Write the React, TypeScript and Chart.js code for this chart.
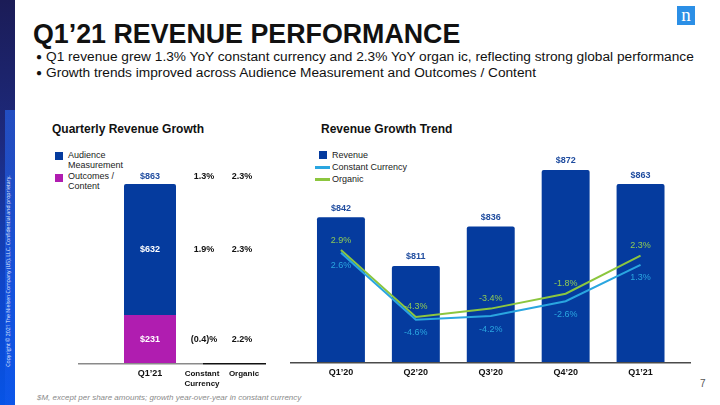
import React, { useEffect, useRef } from "react";
import { Chart, registerables } from "chart.js";

Chart.register(...registerables);

const FONT = '"Liberation Sans", Arial, Helvetica, sans-serif';

// ---- Right chart data: Revenue Growth Trend ----
const quarterCategories = ["Q1’20", "Q2’20", "Q3’20", "Q4’20", "Q1’21"];
const revenue = [842, 811, 836, 872, 863];
const constantCurrencyGrowth = [2.6, -4.6, -4.2, -2.6, 1.3];
const organicGrowth = [2.9, -4.3, -3.4, -1.8, 2.3];

// ---- Left chart data: Quarterly Revenue Growth ----
const segmentCategory = ["Q1’21"];
const outcomesContent = [231];
const audienceMeasurement = [632];
const totalRevenue = [863];
// rows: total, audience measurement, outcomes / content
const segmentConstantCurrency = [1.3, 1.9, -0.4];
const segmentOrganic = [2.3, 2.3, 2.2];
const tableHeaders = [["Constant", "Currency"], ["Organic"]];

const BLUE = "#053b9e";
const LABEL_BLUE = "#1f4c9f";
const PURPLE = "#b01db0";
const LIGHT_BLUE = "#2aa6e0";
const GREEN = "#8cc63f";
const GREEN_TEXT = "#8fcb55";

const pct = (v: number) => (v < 0 ? `(${Math.abs(v).toFixed(1)})%` : `${v.toFixed(1)}%`);
const pctSigned = (v: number) => `${v.toFixed(1)}%`;

function LeftChart() {
  const ref = useRef<HTMLCanvasElement | null>(null);
  useEffect(() => {
    if (!ref.current) return;
    const labelPlugin = {
      id: "leftLabels",
      afterDatasetsDraw(chart: any) {
        const ctx = chart.ctx;
        const area = chart.chartArea;
        const oc = chart.getDatasetMeta(0).data[0];
        const am = chart.getDatasetMeta(1).data[0];
        const colCC = area.right - 18;
        const colOrg = area.right + 20;
        ctx.save();
        // baseline
        ctx.lineWidth = 1.5;
        ctx.strokeStyle = "#8a8a8a";
        ctx.beginPath();
        ctx.moveTo(0, area.bottom + 0.75);
        ctx.lineTo(colCC - 1, area.bottom + 0.75);
        ctx.stroke();
        ctx.strokeStyle = "#111";
        ctx.beginPath();
        ctx.moveTo(colCC - 1, area.bottom + 0.75);
        ctx.lineTo(chart.width, area.bottom + 0.75);
        ctx.stroke();

        ctx.textAlign = "center";
        ctx.textBaseline = "middle";
        ctx.font = `bold 9px ${FONT}`;
        const rows = [am.y - 7, (am.y + am.base) / 2, (oc.y + oc.base) / 2];
        // bar value labels
        ctx.fillStyle = LABEL_BLUE;
        ctx.fillText(`$${totalRevenue[0]}`, am.x, rows[0]);
        ctx.fillStyle = "#fff";
        ctx.fillText(`$${audienceMeasurement[0]}`, am.x, rows[1]);
        ctx.fillText(`$${outcomesContent[0]}`, oc.x, rows[2]);
        // growth table
        ctx.fillStyle = "#111";
        rows.forEach((y, i) => {
          ctx.fillText(pct(segmentConstantCurrency[i]), colCC, y);
          ctx.fillText(pct(segmentOrganic[i]), colOrg, y);
        });
        // category + headers
        const ty = area.bottom + 11;
        ctx.fillText(segmentCategory[0], chart.scales.x.getPixelForValue(0), ty);
        ctx.font = `bold 8px ${FONT}`;
        tableHeaders[0].forEach((t, i) => ctx.fillText(t, colCC - 2, ty + i * 10));
        tableHeaders[1].forEach((t, i) => ctx.fillText(t, colOrg + 2, ty + i * 10));
        ctx.restore();
      },
    };
    const chart = new Chart(ref.current, {
      type: "bar",
      data: {
        labels: segmentCategory,
        datasets: [
          {
            label: "Outcomes / Content",
            data: outcomesContent,
            backgroundColor: PURPLE,
            barPercentage: 52 / 144,
            categoryPercentage: 1,
          },
          {
            label: "Audience Measurement",
            data: audienceMeasurement,
            backgroundColor: BLUE,
            borderRadius: 2,
            borderSkipped: "start",
            barPercentage: 52 / 144,
            categoryPercentage: 1,
          },
        ],
      },
      options: {
        animation: false,
        responsive: false,
        devicePixelRatio: 1,
        layout: { padding: { left: 0, right: 44, top: 10, bottom: 27 } },
        plugins: { legend: { display: false }, tooltip: { enabled: false } },
        scales: {
          x: { display: false, stacked: true },
          y: { display: false, stacked: true, min: 0, max: 1027 },
        },
      },
      plugins: [labelPlugin],
    });
    return () => chart.destroy();
  }, []);
  return <canvas ref={ref} width={188} height={250} style={{ width: 188, height: 250, display: "block" }} />;
}

function RightChart() {
  const ref = useRef<HTMLCanvasElement | null>(null);
  useEffect(() => {
    if (!ref.current) return;
    const labelPlugin = {
      id: "rightLabels",
      afterDatasetsDraw(chart: any) {
        const ctx = chart.ctx;
        const area = chart.chartArea;
        ctx.save();
        ctx.lineWidth = 1.5;
        ctx.strokeStyle = "#4a4a4a";
        ctx.beginPath();
        ctx.moveTo(0, area.bottom + 0.75);
        ctx.lineTo(chart.width, area.bottom + 0.75);
        ctx.stroke();

        ctx.textAlign = "center";
        ctx.textBaseline = "middle";
        ctx.font = `bold 9px ${FONT}`;
        ctx.fillStyle = LABEL_BLUE;
        chart.getDatasetMeta(0).data.forEach((el: any, i: number) => {
          ctx.fillText(`$${revenue[i]}`, el.x, el.y - 9);
        });
        ctx.font = `9px ${FONT}`;
        ctx.fillStyle = LIGHT_BLUE;
        chart.getDatasetMeta(1).data.forEach((el: any, i: number) => {
          ctx.fillText(pctSigned(constantCurrencyGrowth[i]), el.x, el.y + 13);
        });
        ctx.fillStyle = GREEN_TEXT;
        chart.getDatasetMeta(2).data.forEach((el: any, i: number) => {
          ctx.fillText(pctSigned(organicGrowth[i]), el.x, el.y - 10);
        });
        ctx.font = `bold 9px ${FONT}`;
        ctx.fillStyle = "#111";
        quarterCategories.forEach((c, i) => {
          ctx.fillText(c, chart.scales.x.getPixelForValue(i), area.bottom + 11);
        });
        ctx.restore();
      },
    };
    const chart = new Chart(ref.current, {
      type: "bar",
      data: {
        labels: quarterCategories,
        datasets: [
          {
            type: "bar",
            label: "Revenue",
            data: revenue,
            backgroundColor: BLUE,
            borderRadius: 2,
            borderSkipped: "start",
            barPercentage: 0.64,
            categoryPercentage: 1,
            yAxisID: "y",
            order: 3,
          },
          {
            type: "line",
            label: "Constant Currency",
            data: constantCurrencyGrowth,
            borderColor: LIGHT_BLUE,
            borderWidth: 2,
            pointRadius: 0,
            tension: 0,
            yAxisID: "y2",
            order: 1,
          },
          {
            type: "line",
            label: "Organic",
            data: organicGrowth,
            borderColor: GREEN,
            borderWidth: 2,
            pointRadius: 0,
            tension: 0,
            yAxisID: "y2",
            order: 2,
          },
        ] as any,
      },
      options: {
        animation: false,
        responsive: false,
        devicePixelRatio: 1,
        layout: { padding: { left: 13.5, right: 13, top: 10, bottom: 28 } },
        plugins: { legend: { display: false }, tooltip: { enabled: false } },
        scales: {
          x: { display: false, offset: true },
          y: { display: false, min: 750, max: 891 },
          y2: { display: false, min: -9.14, max: 14.73, position: "right" },
        },
      },
      plugins: [labelPlugin],
    });
    return () => chart.destroy();
  }, []);
  return <canvas ref={ref} width={401} height={260} style={{ width: 401, height: 260, display: "block" }} />;
}

const abs = (s: React.CSSProperties): React.CSSProperties => ({ position: "absolute", ...s });

export default function App() {
  return (
    <div
      style={{
        position: "fixed",
        left: 0,
        top: 0,
        width: 720,
        height: 405,
        background: "#fff",
        overflow: "hidden",
        fontFamily: FONT,
        color: "#111",
      }}
    >
      {/* left brand strip */}
      <div
        style={abs({
          left: 0,
          top: 0,
          width: 15,
          height: 405,
          background: "linear-gradient(180deg, #1b1c57 0%, #1d2a7e 35%, #0f45c8 70%, #0754e6 100%)",
        })}
      />
      <div
        style={abs({
          left: 5,
          top: 110,
          width: 10,
          height: 295,
          background: "linear-gradient(180deg, rgba(40,110,255,0.55) 0%, rgba(20,90,240,0.35) 100%)",
        })}
      />
      <div style={abs({ left: 8, top: 271, width: 0, height: 0 })}>
        <div
          style={{
            position: "absolute",
            left: 0,
            top: 0,
            transform: "translate(-50%, -50%) rotate(-90deg)",
            whiteSpace: "nowrap",
            fontSize: 5.2,
            color: "#e8efff",
            fontFamily: '"Open Sans", sans-serif',
          }}
        >
          Copyright © 2021 The Nielsen Company (US), LLC. Confidential and proprietary.
        </div>
      </div>

      {/* logo */}
      <div
        style={abs({
          left: 677,
          top: 6,
          width: 18,
          height: 19,
          background: "#2b8fe6",
          color: "#fff",
          fontFamily: '"Liberation Serif", serif',
          fontSize: 19,
          lineHeight: "17px",
          textAlign: "center",
        })}
      >
        n
      </div>

      {/* title */}
      <div style={abs({ left: 33, top: 19, fontSize: 26.8, lineHeight: "31px", fontWeight: "bold", whiteSpace: "nowrap" })}>
        Q1’21 REVENUE PERFORMANCE
      </div>
      {[
        "Q1 revenue grew 1.3% YoY constant currency and 2.3% YoY organ ic, reflecting strong global performance",
        "Growth trends improved across Audience Measurement and Outcomes / Content",
      ].map((t, i) => (
        <div key={i} style={abs({ left: 46, top: 48.5 + i * 16, fontSize: 13.7, lineHeight: "16px", whiteSpace: "nowrap" })}>
          <span style={abs({ left: -10, top: 0, fontSize: 10 })}>●</span>
          {t}
        </div>
      ))}

      {/* section titles */}
      <div style={abs({ left: 52, top: 121, fontSize: 12, lineHeight: "16px", fontWeight: "bold", whiteSpace: "nowrap" })}>
        Quarterly Revenue Growth
      </div>
      <div style={abs({ left: 321, top: 121, fontSize: 12, lineHeight: "16px", fontWeight: "bold", whiteSpace: "nowrap" })}>
        Revenue Growth Trend
      </div>

      {/* left legend */}
      <div style={abs({ left: 55, top: 152, width: 8, height: 8, background: BLUE })} />
      <div style={abs({ left: 68, top: 150, fontSize: 9, lineHeight: "10px", color: "#222" })}>
        Audience
        <br />
        Measurement
      </div>
      <div style={abs({ left: 55, top: 174, width: 8, height: 8, background: PURPLE })} />
      <div style={abs({ left: 68, top: 171, fontSize: 9, lineHeight: "10px", color: "#222" })}>
        Outcomes /
        <br />
        Content
      </div>

      {/* right legend */}
      <div style={abs({ left: 319, top: 151, width: 8, height: 8, background: BLUE })} />
      <div style={abs({ left: 332, top: 150, fontSize: 9, lineHeight: "10px", color: "#222" })}>Revenue</div>
      <div style={abs({ left: 315, top: 166, width: 15, height: 2.5, background: LIGHT_BLUE })} />
      <div style={abs({ left: 332, top: 162, fontSize: 9, lineHeight: "10px", color: "#222" })}>Constant Currency</div>
      <div style={abs({ left: 315, top: 178, width: 15, height: 2.5, background: GREEN })} />
      <div style={abs({ left: 332, top: 174, fontSize: 9, lineHeight: "10px", color: "#222" })}>Organic</div>

      {/* charts */}
      <div style={abs({ left: 78, top: 140 })}>
        <LeftChart />
      </div>
      <div style={abs({ left: 290, top: 130 })}>
        <RightChart />
      </div>

      {/* footer */}
      <div
        style={abs({
          left: 37,
          top: 392,
          fontSize: 8,
          lineHeight: "12px",
          fontStyle: "italic",
          color: "#8a8a8a",
          whiteSpace: "nowrap",
        })}
      >
        $M, except per share amounts; growth year-over-year in constant currency
      </div>
      <div style={abs({ left: 700, top: 378, fontSize: 10, lineHeight: "12px", color: "#555" })}>7</div>
    </div>
  );
}
